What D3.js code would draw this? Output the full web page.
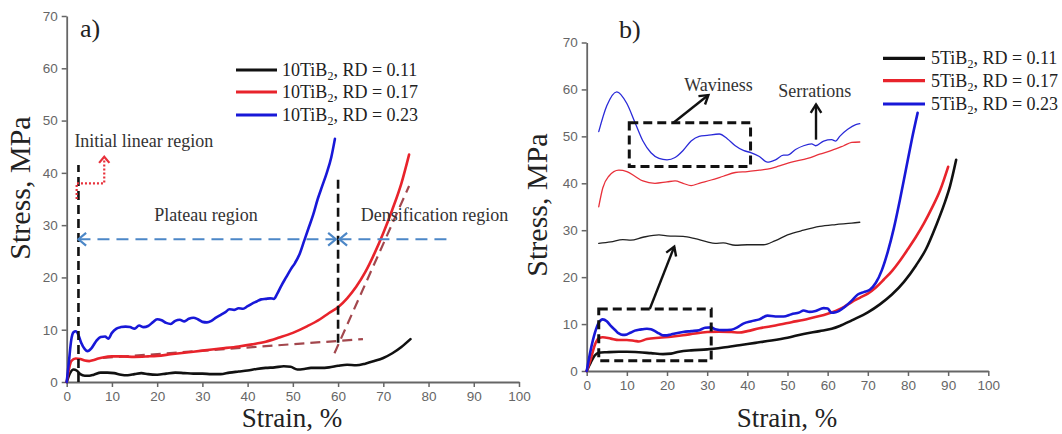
<!DOCTYPE html>
<html><head><meta charset="utf-8">
<script src="https://cdn.jsdelivr.net/npm/d3@7"></script>
<style>body{margin:0;background:#fff} svg{display:block}</style>
</head><body>
<svg id="c" width="1062" height="434"></svg>
<script>
// ---------- data ----------
const xTicks = [0,10,20,30,40,50,60,70,80,90,100];
const xMinor = [5,15,25,35,45,55,65,75,85,95];
const yTicks = [0,10,20,30,40,50,60,70];
const yMinor = [5,15,25,35,45,55,65];
const seriesColors = ["#111111","#e8232b","#1818d8"];
const rdLabels = ["0.11","0.17","0.23"];
const legendPrefixA = "10TiB";
const legendPrefixB = "5TiB";

// panel a : 10TiB2
const a_rd011 = [[0,0],[0.8,1.8],[1.5,2.4],[2.2,2.2],[3,1.5],[4,1.2],[5,1.2],[6,1.4],[7.5,1.8],[9,1.8],[10.5,1.7],[12,1.4],[13.5,1.3],[15,1.5],[16.5,1.7],[18,1.5],[20,1.4],[22,1.6],[24,1.8],[26,1.7],[28,1.6],[30,1.6],[32,1.5],[34,1.5],[36,1.8],[38,2.0],[40,2.2],[42,2.5],[44,2.7],[46,2.8],[48,3.0],[49.5,2.9],[51,2.4],[52.5,2.5],[54,2.7],[56,2.7],[58,2.8],[60,3.1],[62,3.3],[64,3.2],[66,3.5],[68,4.0],[70,4.6],[72,5.5],[74,6.7],[76,8.2]];
const a_rd017 = [[0,0],[0.5,2.5],[1,4.0],[2,4.5],[3,4.4],[4,4.1],[5,4.0],[6,4.2],[7,4.5],[8,4.7],[10,4.9],[12,4.9],[15,4.8],[18,4.9],[20,5.0],[23,5.3],[26,5.6],[30,6.0],[34,6.4],[38,6.8],[41,7.2],[44,7.7],[47,8.5],[50,9.4],[53,10.6],[56,12.0],[58,13.2],[60,14.3],[62,16.0],[64,18.2],[66,21],[68,24.5],[70,28.5],[72,33],[74,38],[75.7,43.5]];
const a_rd023 = [[0,0],[0.5,4],[1,8],[1.5,9.5],[2,9.7],[2.6,9.0],[3.2,7.5],[4,6.3],[4.6,5.9],[5.5,6.5],[6.5,7.8],[7.5,8.6],[8.5,8.7],[9.2,8.3],[10,9.4],[11,10.2],[12,10.5],[13,10.6],[14,10.5],[15,10.2],[16,10.8],[17,10.5],[18,10.7],[19,11.4],[20,12.0],[21,11.8],[22,11.3],[23,11.1],[24,11.7],[25,11.9],[26,11.6],[27,12.1],[28,12.3],[29,12.0],[30,11.5],[31,11.4],[32,11.7],[33,12.3],[34,12.8],[35,13.3],[36,13.9],[37,13.8],[38,14.1],[39,14.0],[40,14.5],[41,15.0],[42,15.4],[43,15.8],[44,15.9],[45,16.0],[45.8,15.9],[46.5,16.8],[47.5,18.5],[48.5,20],[49.5,21.5],[50.5,22.8],[51.5,24.5],[52.5,27],[53.5,29.5],[54.5,32],[55.5,35],[56.5,37.5],[57.5,40],[58.5,43],[59.3,46.5]];

// panel a annotations (data units)
const a_blackDashV = [[2.6,0,41.5],[60,7.5,39.5]];
const a_plateauArrow = [2.6,59.5,27.3];
const a_densArrow = [60.3,85,27.3];
const a_brownDash = [[[8,4.6],[65.5,8.2]],[[59.2,5.5],[75.7,37.5]]];
const a_redDotted = [[2.2,35],[2.2,38],[8.3,38],[8.3,42.5]];
const a_texts = [["Initial linear region",1.7,45.8,"start"],["Plateau region",30.8,31.6,"middle"],["Densification region",81.3,31.6,"middle"]];

// panel b : 5TiB2
const b_rd011 = [[0,0],[1,1.8],[2,3.3],[3,3.9],[5,4.0],[8,4.1],[10,4.1],[13,4.0],[16,3.8],[19,3.6],[21,3.7],[23,4.1],[26,4.4],[30,4.6],[34,5.0],[38,5.5],[42,6.0],[46,6.5],[50,7.1],[54,7.9],[58,8.5],[61,9.0],[63,9.6],[66,10.8],[70,12.5],[73,14.2],[76,16.3],[79,19.0],[82,22.5],[84.5,26],[87,31],[89,35.5],[90.5,39.5],[92,45]];
const b_rd017 = [[0,0],[1,2.5],[2,5.5],[3,7.0],[4,7.2],[6,6.9],[8,6.6],[10,6.6],[12,6.4],[13,6.3],[15,6.8],[18,7.1],[21,7.3],[24,7.6],[27,8.0],[30,8.3],[33,8.4],[36,8.3],[38,8.2],[40,8.5],[43,9.1],[47,9.7],[51,10.4],[55,11.1],[58,11.7],[60,12.2],[62,12.8],[64,13.6],[66,14.7],[68,15.6],[70,16.5],[72,17.8],[74,19.5],[76,21.3],[78,23.5],[80,26],[82,28.6],[84,31.5],[86,34.8],[88,38.5],[90,43.5]];
const b_rd023 = [[0,0],[1,4.5],[2,8],[3,10.3],[4,11.0],[5,10.6],[6,9.6],[7,8.8],[8,8.0],[9,7.7],[10,7.8],[11,8.2],[12,8.6],[13,8.8],[14,8.9],[15,9.0],[16,8.9],[17,8.5],[18,8.0],[19,7.6],[20,7.6],[21,7.8],[22,8.0],[24,8.3],[26,8.5],[28,8.7],[29.5,9.2],[31,9.3],[32,8.9],[34,8.7],[36,8.8],[37.5,9.3],[39,10.1],[41,10.6],[43,11.0],[45,11.8],[47,11.6],[49,11.6],[51,12.1],[53,12.5],[54,12.9],[55.5,12.6],[57,12.8],[59,13.4],[60,13.3],[61,12.4],[62,12.5],[64,13.5],[66,15.0],[67.5,16.3],[69,16.8],[70.5,17.3],[72,18.8],[73.5,21.5],[75,25.5],[76.5,30.5],[78,36.5],[79.5,43],[81,49.5],[82.4,55]];
// magnified insets
const b_in011 = [[3,27.2],[6,27.5],[9,28.0],[11,27.9],[14,28.5],[18,29.0],[20,28.8],[24,28.7],[27,28.2],[30,27.5],[32,27.2],[34,27.3],[37,26.8],[40,26.9],[44,26.9],[47,27.8],[50,29.0],[54,30.0],[58,30.8],[62,31.2],[66,31.5],[68,31.7]];
const b_in017 = [[3,35],[4,39],[5.5,41.5],[8,42.8],[10,42.5],[12,41.5],[14,40.5],[17,40.0],[20,40.3],[22,40.5],[24,40.0],[26,39.5],[28,40.0],[31,40.7],[34,41.5],[37,42.3],[40,42.5],[43,42.8],[45,43.0],[48,43.7],[51,44.5],[55,45.3],[58,46.2],[61,47.0],[64,48.0],[66,48.7],[68,48.8]];
const b_in023 = [[3,51],[5,56.5],[7.5,59.5],[10,57],[12,53],[14,49],[16,46.5],[18,45.3],[20,45.0],[22,45.5],[24,47.0],[26,49.0],[28,50.0],[30,50.2],[33,50.5],[35,49.5],[37,48.0],[39,47.0],[41,46.5],[43,45.7],[45,44.5],[47,45.0],[49,46.0],[50,46.0],[52,47.2],[54,48.0],[56,48.4],[57,48.0],[59,49.0],[61,49.3],[62,49.0],[63,50.0],[65,51.5],[67,52.5],[68,52.7]];
const b_boxes = [[3,31,2.2,13.2],[10.6,40.8,43.6,52.9]];
const b_arrows = [[[15.7,13.2],[21.8,26.5]],[[21.6,52.9],[30.3,58.8]],[[57.1,49.3],[57.1,56.8]]];
const b_texts = [["Waviness",32.8,60.6],["Serrations",56.8,59.2]];

// ---------- drawing ----------
const svg = d3.select("#c");
const SERIF = "'Liberation Serif','DejaVu Serif',serif";
const SANS = "'Liberation Sans',Arial,sans-serif";

const xA = d3.scaleLinear([0,100],[66.7,519]);
const yA = d3.scaleLinear([0,70],[382,16]);
const xB = d3.scaleLinear([0,100],[586.7,988.3]);
const yB = d3.scaleLinear([0,70],[371,42.5]);

function axes(x, y) {
  const g = svg.append("g");
  const ax = g.append("g").attr("transform",`translate(0,${y(0)})`);
  ax.call(d3.axisBottom(x).tickValues(xMinor).tickSize(3).tickSizeOuter(0).tickFormat(""));
  ax.call(d3.axisBottom(x).tickValues(xTicks).tickSize(5).tickSizeOuter(0).tickPadding(4).tickFormat(d3.format("d")));
  const ay = g.append("g").attr("transform",`translate(${x(0)},0)`);
  ay.call(d3.axisLeft(y).tickValues(yMinor).tickSize(3).tickSizeOuter(0).tickFormat(""));
  ay.call(d3.axisLeft(y).tickValues(yTicks).tickSize(5).tickSizeOuter(0).tickPadding(4).tickFormat(d3.format("d")));
  g.selectAll("path.domain").attr("stroke","#666").attr("stroke-width",1.8);
  g.selectAll(".tick line").attr("stroke","#666").attr("stroke-width",1.5);
  g.selectAll(".tick text").attr("fill","#666").attr("font-family",SANS).attr("font-size",13.5);
}

function curve(x, y, data, color, w) {
  svg.append("path").datum(data)
    .attr("fill","none").attr("stroke",color).attr("stroke-width",w)
    .attr("stroke-linejoin","round").attr("stroke-linecap","round")
    .attr("d", d3.line().x(d=>x(d[0])).y(d=>y(d[1])).curve(d3.curveMonotoneX));
}

function chevron(tip, from, color, L, w, ang) {
  const dx = from[0]-tip[0], dy = from[1]-tip[1];
  const len = Math.hypot(dx,dy), ux = dx/len, uy = dy/len;
  const a = ang*Math.PI/180;
  const p1 = [tip[0]+L*(ux*Math.cos(a)-uy*Math.sin(a)), tip[1]+L*(ux*Math.sin(a)+uy*Math.cos(a))];
  const p2 = [tip[0]+L*(ux*Math.cos(-a)-uy*Math.sin(-a)), tip[1]+L*(ux*Math.sin(-a)+uy*Math.cos(-a))];
  svg.append("path").attr("d",`M${p1}L${tip}L${p2}`).attr("fill","none")
    .attr("stroke",color).attr("stroke-width",w).attr("stroke-linejoin","miter");
}

function legend(prefix, x0, x1, ys, tx) {
  ys.forEach((yy,i) => {
    svg.append("line").attr("x1",x0).attr("x2",x1).attr("y1",yy).attr("y2",yy)
      .attr("stroke",seriesColors[i]).attr("stroke-width",3.2);
    const t = svg.append("text").attr("x",tx).attr("y",yy+6).attr("font-family",SERIF)
      .attr("font-size",18).attr("fill","#222");
    t.append("tspan").text(prefix);
    t.append("tspan").attr("dy",4).attr("font-size",12).text("2");
    t.append("tspan").attr("dy",-4).text(", RD = " + rdLabels[i]);
  });
}

function titles(cx, cy, tx, ty) {
  svg.append("text").attr("x",tx).attr("y",ty).attr("text-anchor","middle")
    .attr("font-family",SERIF).attr("font-size",27).attr("fill","#222").text("Strain, %");
  svg.append("text").attr("transform",`translate(${cx},${cy}) rotate(-90)`).attr("text-anchor","middle")
    .attr("dominant-baseline","middle").attr("font-family",SERIF).attr("font-size",30).attr("fill","#222").text("Stress, MPa");
}

// ---- panel a ----
axes(xA, yA);
a_brownDash.forEach(seg => {
  svg.append("line").attr("x1",xA(seg[0][0])).attr("y1",yA(seg[0][1])).attr("x2",xA(seg[1][0])).attr("y2",yA(seg[1][1]))
    .attr("stroke","#a3474d").attr("stroke-width",2.2).attr("stroke-dasharray","10,6");
});
[[a_rd011,0],[a_rd017,1],[a_rd023,2]].forEach(([d,i]) => curve(xA,yA,d,seriesColors[i],2.6));
a_blackDashV.forEach(v => {
  svg.append("line").attr("x1",xA(v[0])).attr("x2",xA(v[0])).attr("y1",yA(v[1])).attr("y2",yA(v[2]))
    .attr("stroke","#111").attr("stroke-width",2.6).attr("stroke-dasharray","9,5");
});
const blueC = "#4c87c7";
[a_plateauArrow, a_densArrow].forEach(ar => {
  svg.append("line").attr("x1",xA(ar[0])).attr("x2",xA(ar[1])).attr("y1",yA(ar[2])).attr("y2",yA(ar[2]))
    .attr("stroke",blueC).attr("stroke-width",2.2).attr("stroke-dasharray","12,7");
});
chevron([xA(a_plateauArrow[0]),yA(a_plateauArrow[2])],[xA(a_plateauArrow[1]),yA(a_plateauArrow[2])],blueC,10,2.2,40);
chevron([xA(a_plateauArrow[1]),yA(a_plateauArrow[2])],[xA(a_plateauArrow[0]),yA(a_plateauArrow[2])],blueC,10,2.2,40);
chevron([xA(a_densArrow[0]),yA(a_densArrow[2])],[xA(a_densArrow[1]),yA(a_densArrow[2])],blueC,10,2.2,40);
svg.append("path").datum(a_redDotted).attr("fill","none").attr("stroke","#e8303a").attr("stroke-width",2.2)
  .attr("stroke-dasharray","2,2").attr("d", d3.line().x(d=>xA(d[0])).y(d=>yA(d[1])));
{
  const n = a_redDotted.length;
  chevron([xA(a_redDotted[n-1][0]),yA(a_redDotted[n-1][1])-3],[xA(a_redDotted[n-2][0]),yA(a_redDotted[n-2][1])],"#e8303a",8,2.2,40);
}
a_texts.forEach(t => {
  svg.append("text").attr("x",xA(t[1])).attr("y",yA(t[2])).attr("text-anchor",t[3])
    .attr("dominant-baseline","middle").attr("font-family",SERIF).attr("font-size",18).attr("fill","#333").text(t[0]);
});
svg.append("text").attr("x",80).attr("y",37).attr("font-family",SERIF).attr("font-size",26).attr("fill","#222").text("a)");
legend(legendPrefixA, 236, 277, [70,92,115], 282);
titles(23, 188, 292, 427);

// ---- panel b ----
axes(xB, yB);
[[b_rd011,0],[b_rd017,1],[b_rd023,2]].forEach(([d,i]) => curve(xB,yB,d,seriesColors[i],2.6));
[[b_in011,"#222"],[b_in017,"#e8303a"],[b_in023,"#2a2ad8"]].forEach(([d,c]) => curve(xB,yB,d,c,1.3));
b_boxes.forEach(b => {
  svg.append("rect").attr("x",xB(b[0])).attr("y",yB(b[3])).attr("width",xB(b[1])-xB(b[0])).attr("height",yB(b[2])-yB(b[3]))
    .attr("fill","none").attr("stroke","#111").attr("stroke-width",3).attr("stroke-dasharray","9,5");
});
b_arrows.forEach(ar => {
  const p0 = [xB(ar[0][0]),yB(ar[0][1])], p1 = [xB(ar[1][0]),yB(ar[1][1])];
  svg.append("line").attr("x1",p0[0]).attr("y1",p0[1]).attr("x2",p1[0]).attr("y2",p1[1])
    .attr("stroke","#111").attr("stroke-width",2.4);
  chevron(p1,p0,"#111",10,2.4,32);
});
b_texts.forEach(t => {
  svg.append("text").attr("x",xB(t[1])).attr("y",yB(t[2])).attr("text-anchor","middle")
    .attr("dominant-baseline","middle").attr("font-family",SERIF).attr("font-size",18).attr("fill","#333").text(t[0]);
});
svg.append("text").attr("x",619).attr("y",38).attr("font-family",SERIF).attr("font-size",26).attr("fill","#222").text("b)");
legend(legendPrefixB, 883, 925, [58.3,80.7,104], 931);
titles(540, 205, 787, 427);
</script>
</body></html>
